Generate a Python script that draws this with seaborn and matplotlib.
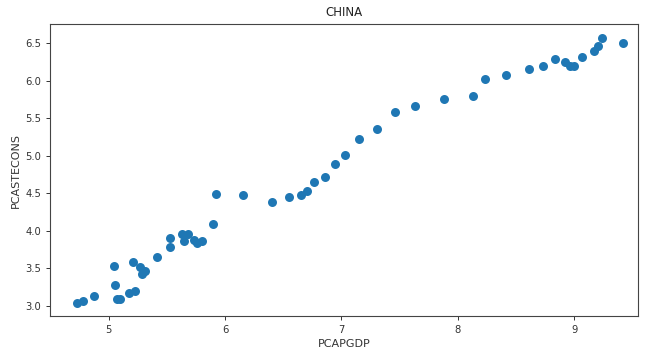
import matplotlib
matplotlib.use("Agg")
import matplotlib.pyplot as plt
import seaborn as sns
import pandas as pd

pcapgdp = [4.730, 4.777, 4.878, 5.046, 5.054, 5.074, 5.097, 5.174, 5.222, 5.211,
           5.269, 5.308, 5.282, 5.415, 5.527, 5.527, 5.634, 5.680, 5.647, 5.737,
           5.761, 5.804, 5.896, 5.922, 6.151, 6.403, 6.552, 6.655, 6.706, 6.764,
           6.856, 6.947, 7.033, 7.153, 7.308, 7.457, 7.631, 7.881, 8.132, 8.233,
           8.411, 8.611, 8.734, 8.834, 8.920, 8.967, 8.993, 9.066, 9.172, 9.201,
           9.235, 9.416]
pcastecons = [3.036, 3.071, 3.133, 3.537, 3.280, 3.089, 3.089, 3.177, 3.204, 3.580,
              3.520, 3.466, 3.422, 3.650, 3.910, 3.790, 3.966, 3.953, 3.870, 3.879,
              3.839, 3.866, 4.092, 4.492, 4.479, 4.390, 4.448, 4.479, 4.536, 4.649,
              4.719, 4.892, 5.008, 5.221, 5.362, 5.581, 5.669, 5.762, 5.794, 6.020,
              6.082, 6.161, 6.197, 6.295, 6.251, 6.193, 6.193, 6.321, 6.393, 6.464,
              6.567, 6.508]
title = "CHINA"
xlabel = "PCAPGDP"
ylabel = "PCASTECONS"

df = pd.DataFrame({xlabel: pcapgdp, ylabel: pcastecons})

W, H = 648, 349
fig = plt.figure(figsize=(W / 100, H / 100), dpi=100)
left, right, top, bottom = 50, 638, 24, 316
ax = fig.add_axes([left / W, (H - bottom) / H, (right - left) / W, (bottom - top) / H])

sns.scatterplot(data=df, x=xlabel, y=ylabel, ax=ax, color="#1f77b4",
                s=42, linewidth=0, alpha=1)

ax.set_xlim(4.496, 9.547)
ax.set_ylim(2.867, 6.757)
ax.set_xticks([5, 6, 7, 8, 9])
ax.set_yticks([3.0, 3.5, 4.0, 4.5, 5.0, 5.5, 6.0, 6.5])
ax.set_yticklabels(["3.0", "3.5", "4.0", "4.5", "5.0", "5.5", "6.0", "6.5"])
ax.tick_params(labelsize=7.2, colors="#333333", length=3, width=0.7)
ax.set_title(title, fontsize=8.5, color="#222222", pad=6)
ax.set_xlabel(xlabel, fontsize=8, color="#333333", labelpad=3)
ax.set_ylabel(ylabel, fontsize=8, color="#333333", labelpad=3)
for sp in ax.spines.values():
    sp.set_color("#444444")
    sp.set_linewidth(0.8)

fig.savefig("out.png", dpi=100)
